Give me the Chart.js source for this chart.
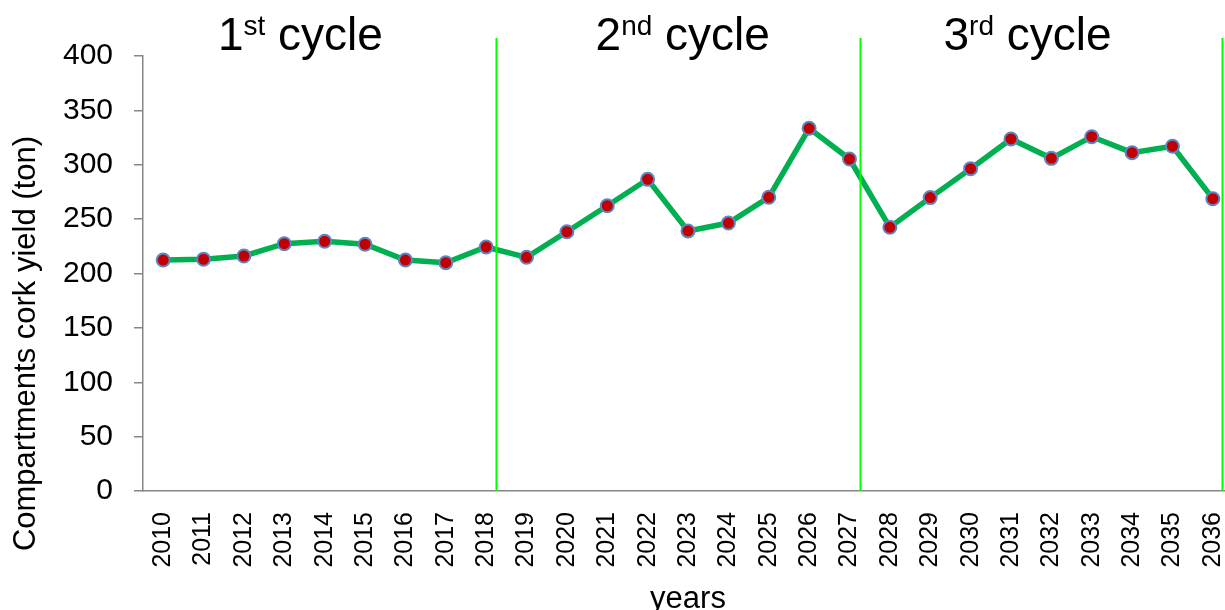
<!DOCTYPE html>
<html lang="en">
<head>
  <meta charset="UTF-8" />
  <title>Compartments cork yield</title>
  <script src="https://cdn.jsdelivr.net/npm/chart.js"></script>
  <style>
    html, body { margin: 0; padding: 0; background: #fff; overflow: hidden; }
    canvas { display: block; }
  </style>
</head>
<body>
  <canvas id="yieldChart" width="1264" height="610"></canvas>
  <script>
    const years = ['2010','2011','2012','2013','2014','2015','2016','2017','2018','2019',
                   '2020','2021','2022','2023','2024','2025','2026','2027','2028','2029',
                   '2030','2031','2032','2033','2034','2035','2036'];
    const corkYield = [212.4, 213.1, 216.1, 227.4, 229.6, 226.9, 212.4, 209.9, 224.4, 214.9,
                       238.4, 262.3, 286.6, 239.1, 246.4, 270.1, 333.5, 305.3, 242.5, 269.8,
                       296.4, 323.7, 305.9, 325.8, 311.1, 317.0, 268.8];
    // cycle boundaries and label centres, in category units
    const cycleBounds = [8.25, 17.25, 26.22];
    const cycleNums = ['1', '2', '3'];
    const cycleSups = ['st', 'nd', 'rd'];
    const cycleCentres = [3.4, 12.87, 21.41];

    const FONT = '"Liberation Sans", Arial, sans-serif';

    const cyclePlugin = {
      id: 'cycles',
      afterDraw(chart) {
        const ctx = chart.ctx;
        const x = chart.scales.x;
        const area = chart.chartArea;
        ctx.save();
        // vertical cycle separators
        ctx.strokeStyle = '#00FF00';
        ctx.lineWidth = 2;
        cycleBounds.forEach(b => {
          const px = Math.round(x.getPixelForValue(b)) + 0.5;
          ctx.beginPath();
          ctx.moveTo(px, area.top - 18);
          ctx.lineTo(px, area.bottom);
          ctx.stroke();
        });
        // cycle titles with superscript
        ctx.fillStyle = '#000';
        ctx.textBaseline = 'alphabetic';
        ctx.textAlign = 'left';
        const bigFont = '46px ' + FONT;
        const supFont = '28px ' + FONT;
        const baseY = area.top - 6;
        cycleNums.forEach((n, i) => {
          ctx.font = bigFont;
          const wNum = ctx.measureText(n).width;
          const wRest = ctx.measureText(' cycle').width;
          ctx.font = supFont;
          const wSup = ctx.measureText(cycleSups[i]).width;
          const total = wNum + wSup + wRest;
          let cx = x.getPixelForValue(cycleCentres[i]) - total / 2;
          ctx.font = bigFont;
          ctx.fillText(n, cx, baseY);
          cx += wNum;
          ctx.font = supFont;
          ctx.fillText(cycleSups[i], cx, baseY - 15);
          cx += wSup;
          ctx.font = bigFont;
          ctx.fillText(' cycle', cx, baseY);
        });
        // y axis title
        ctx.font = '31px ' + FONT;
        ctx.textAlign = 'center';
        ctx.translate(35, (area.top + area.bottom) / 2 + 70);
        ctx.rotate(-Math.PI / 2);
        ctx.fillText('Compartments cork yield (ton)', 0, 0);
        ctx.restore();
      }
    };

    const ctx = document.getElementById('yieldChart').getContext('2d');
    new Chart(ctx, {
      type: 'line',
      data: {
        labels: years,
        datasets: [{
          data: corkYield,
          borderColor: '#00B050',
          borderWidth: 5.5,
          tension: 0,
          pointRadius: 6.5,
          pointBorderWidth: 2,
          pointBackgroundColor: '#C00000',
          pointBorderColor: '#5B87C5',
          fill: false
        }]
      },
      options: {
        responsive: false,
        animation: false,
        devicePixelRatio: 1,
        layout: { padding: { top: 56, right: 8, left: 0, bottom: 0 } },
        plugins: { legend: { display: false }, tooltip: { enabled: false } },
        scales: {
          x: {
            offset: true,
            grid: { display: false, drawTicks: false },
            border: { color: '#868686', width: 1.5 },
            ticks: {
              autoSkip: false, minRotation: 90, maxRotation: 90, padding: 21,
              color: '#000', font: { family: FONT, size: 25 }
            },
            title: {
              display: true, text: 'years', color: '#000',
              font: { family: FONT, size: 31, lineHeight: 1 },
              padding: { top: 0, bottom: -5 }
            },
            afterFit(scale) { scale.height = 119; }
          },
          y: {
            min: 0, max: 400,
            grid: { drawOnChartArea: false, drawTicks: true, tickLength: 9, color: '#868686', lineWidth: 1.5 },
            border: { color: '#868686', width: 1.5 },
            ticks: { stepSize: 50, padding: 21, color: '#000', font: { family: FONT, size: 30 } },
            afterFit(scale) { scale.width = 143; }
          }
        }
      },
      plugins: [cyclePlugin]
    });
  </script>
</body>
</html>
